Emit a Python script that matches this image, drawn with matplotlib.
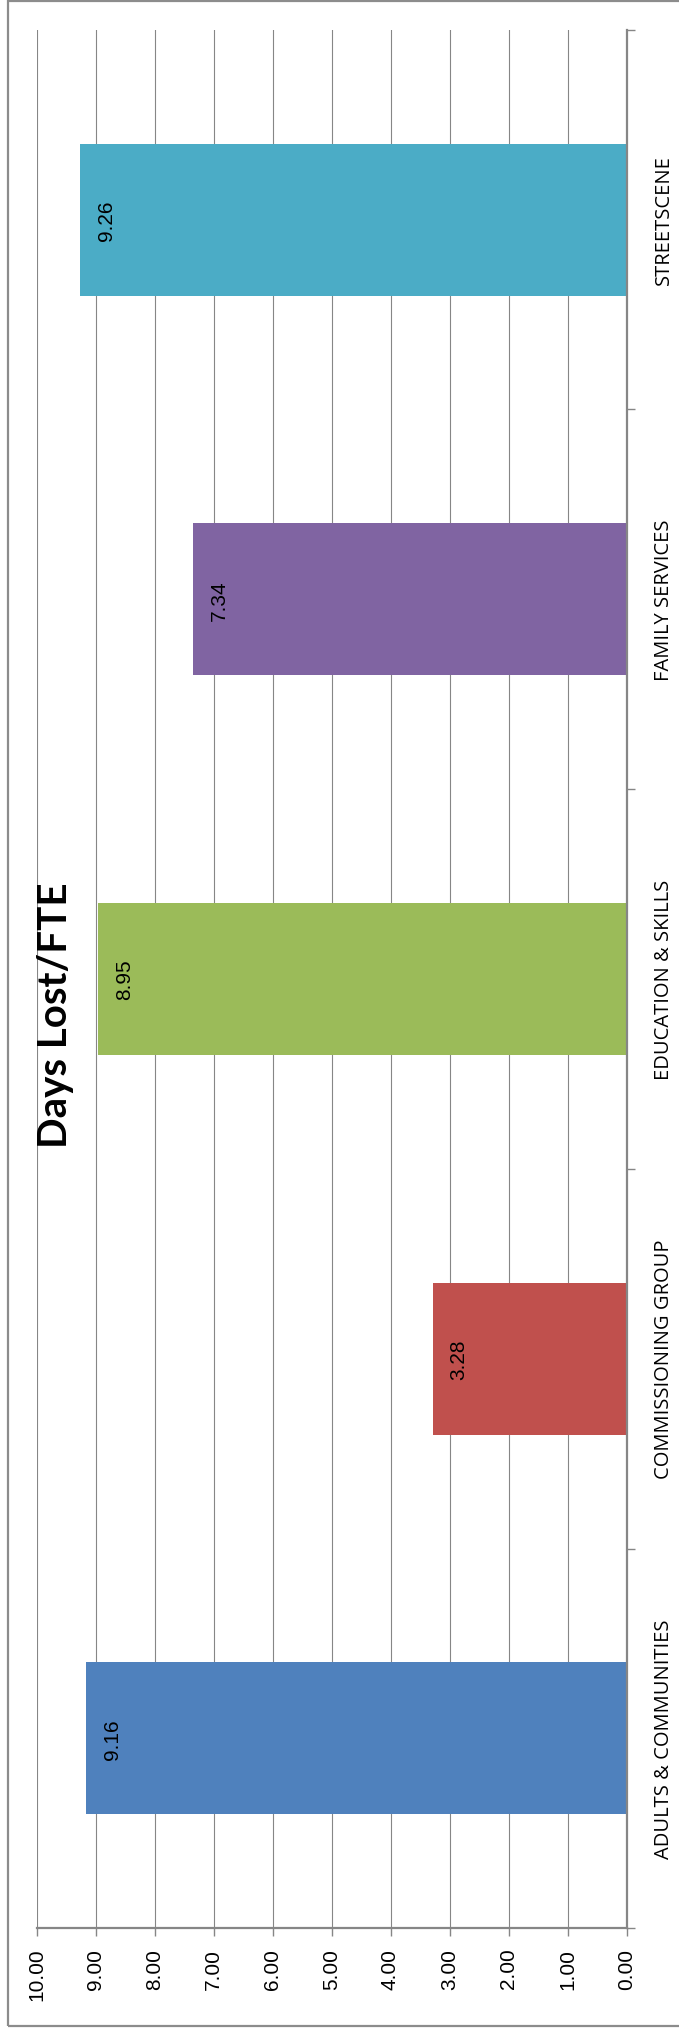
import matplotlib
matplotlib.use('Agg')
import matplotlib.pyplot as plt
from matplotlib.patches import Rectangle

categories = ['ADULTS & COMMUNITIES', 'COMMISSIONING GROUP', 'EDUCATION & SKILLS',
              'FAMILY SERVICES', 'STREETSCENE']
days_lost = [9.16, 3.28, 8.95, 7.34, 9.26]
bar_colors = ['#4F81BD', '#C0504D', '#9BBB59', '#8064A2', '#4BACC6']
value_ticks = [0, 1, 2, 3, 4, 5, 6, 7, 8, 9, 10]

W, H = 679, 2031
fig = plt.figure(figsize=(W / 100, H / 100), dpi=100)
fig.patch.set_facecolor('white')

# plot area in pixels: x 36.5..626.5, y 30.7..1929.3 (from top)
left, right, top, bottom = 36.5, 626.5, 30.7, 1929.3
ax = fig.add_axes([left / W, 1 - bottom / H, (right - left) / W, (bottom - top) / H])

pos = list(range(len(categories)))
ax.barh(pos, days_lost, height=0.4, color=bar_colors, zorder=3)

# chart is rotated: values grow to the left, categories read bottom to top
ax.set_xlim(10, 0)
ax.set_ylim(-0.5, len(categories) - 0.5)

grid_c = '#868686'
ax.set_xticks(value_ticks)
ax.set_xticklabels(['%.2f' % v for v in value_ticks], rotation=90,
                   fontsize=15, family='Liberation Sans')
ax.grid(axis='x', color=grid_c, linewidth=0.8, zorder=0)
ax.tick_params(axis='x', length=6, width=1, color=grid_c, pad=8)

ax.yaxis.tick_right()
ax.set_yticks([p + 0.5 for p in pos[:-1]] + [-0.5, len(categories) - 0.5])
ax.set_yticklabels([])
ax.set_yticks(pos, minor=True)
ax.set_yticklabels(categories, minor=True, rotation=90, va='center',
                   fontsize=14.5, family='Open Sans')
ax.tick_params(axis='y', which='major', length=6, width=1, color=grid_c)
ax.tick_params(axis='y', which='minor', length=0, pad=20)

for s in ['top', 'left']:
    ax.spines[s].set_visible(False)
for s in ['bottom', 'right']:
    ax.spines[s].set_color(grid_c)
    ax.spines[s].set_linewidth(1.6)
    ax.spines[s].set_zorder(4)

for p, v in zip(pos, days_lost):
    ax.text(v - 0.44, p, '%.2f' % v, rotation=90, ha='center', va='center',
            fontsize=15, family='Liberation Sans', zorder=5)

fig.text(55 / W, 1 - 1015 / H, 'Days Lost/FTE', rotation=90, ha='center', va='center',
         fontsize=29, fontweight='bold', family='Lato')

# outer chart border
fig.add_artist(Rectangle((7.5 / W, 1 - 2027 / H), 1.2, (2027 - 2) / H,
                         transform=fig.transFigure, fill=False,
                         edgecolor='#8C8C8C', linewidth=1.6))

fig.savefig('out.png', dpi=100)
